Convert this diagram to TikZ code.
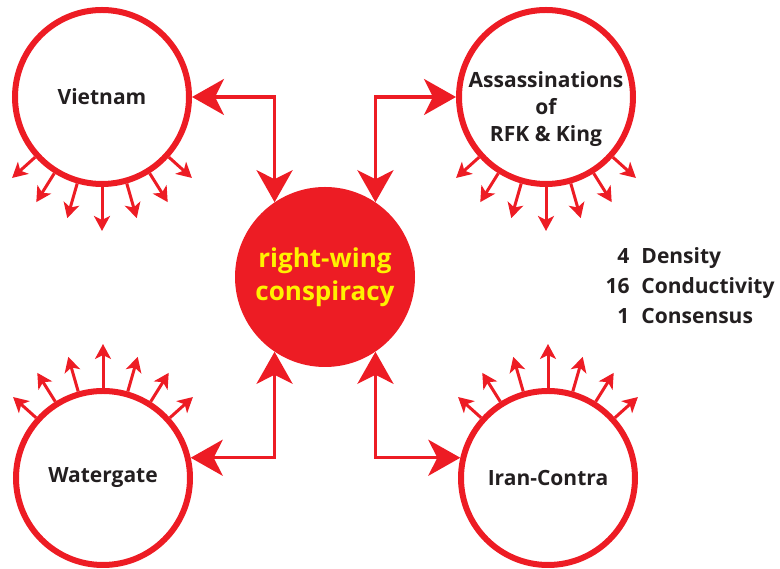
\documentclass[tikz,border=0pt]{standalone}
\usepackage{fontspec}
\setmainfont{Open Sans}
\usetikzlibrary{arrows.meta,positioning}

\definecolor{plotred}{HTML}{ED1C24}
\definecolor{plotyellow}{HTML}{FFF200}
\definecolor{inkgray}{HTML}{231F20}

\tikzset{
  event/.style={draw=plotred,line width=6pt,circle,minimum size=174pt,inner sep=0pt,
    align=center,text=inkgray,font=\bfseries\fontsize{21}{27}\selectfont},
  evtext/.style={align=center,text=inkgray,font=\bfseries\fontsize{21}{27}\selectfont},
  core/.style={circle,fill=plotred,minimum size=180pt,inner sep=0pt,
    align=center,text=plotyellow,font=\bfseries\fontsize{26}{33}\selectfont},
  link/.style={draw=plotred,line width=3.5pt,
    {Stealth[length=32pt,width=36pt,inset=9pt]}-{Stealth[length=32pt,width=36pt,inset=9pt]}},
  spike/.style={draw=plotred,line width=3pt,-{Stealth[length=15pt,width=16pt,inset=4pt]}},
}

\begin{document}
\begin{tikzpicture}[x=1pt,y=1pt]
    \useasboundingbox (0,0) rectangle (780,569);

    % Center and four events
    \node[core] (core) at (325,292) {right-wing\\conspiracy};
    \node[event] (viet) at (102,472) {Vietnam};
    \node[event] (assas) at (546,472) {};
    \node[evtext] (assastext) at ([yshift=-12pt]assas.center) {Assassinations\\of\\RFK \& King};
    \node[event] (water) at (103,91) {Watergate};
    \node[event] (iran) at (548,91) {Iran-Contra};

    % Links to the center
    \draw[link] (viet.east) -| (core.124);
    \draw[link] (core.56) |- (assas.west);
    \draw[link] (core.236) |- (water.13);
    \draw[link] (core.304) |- (iran.167);

    % Spikes
    \foreach \a/\l in {222/121,238/124,254/126,270/134,286/126,302/124,318/121} {
        \draw[spike] (viet.\a) -- ++(\a:\l-90);
        \draw[spike] (assas.\a) -- ++(\a:\l-90);
    }
    \foreach \a/\l in {138/121,122/124,106/126,90/134,74/126,58/124,42/121} {
        \draw[spike] (water.\a) -- ++(\a:\l-90);
        \draw[spike] (iran.\a) -- ++(\a:\l-90);
    }

    % Measures
    \node[text=inkgray,font=\bfseries\fontsize{21}{30}\selectfont] (stats) at (690,281)
        {\begin{tabular}{@{}r@{\hspace{12pt}}l@{}}4 & Density\\16 & Conductivity\\1 & Consensus\end{tabular}};
\end{tikzpicture}
\end{document}
